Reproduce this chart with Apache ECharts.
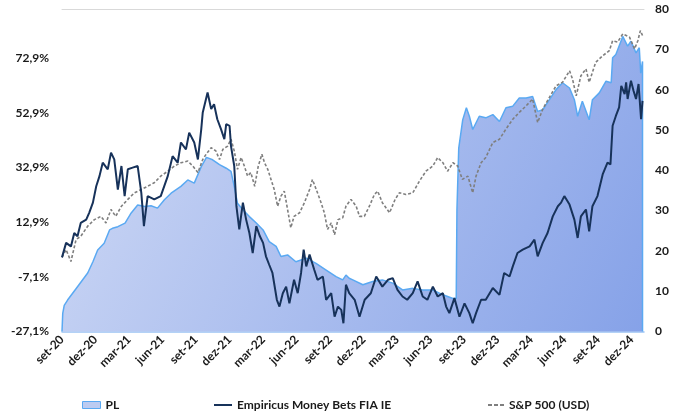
<!DOCTYPE html>
<html><head><meta charset="utf-8">
<script src="https://cdn.jsdelivr.net/npm/echarts@6/dist/echarts.min.js"></script>
<style>html,body{margin:0;padding:0;background:#fff}#c{width:680px;height:412px}</style>
</head><body><div id="c"></div>
<script>
// ---- data ----
const xTickLabels = ['set-20','dez-20','mar-21','jun-21','set-21','dez-21','mar-22','jun-22','set-22','dez-22','mar-23','jun-23','set-23','dez-23','mar-24','jun-24','set-24','dez-24'];
const leftTicks = [-27.1,-7.1,12.9,32.9,52.9,72.9];
const rightTicks = [0,10,20,30,40,50,60,70,80];

const plDates = ['2020-09-01','2020-09-03','2020-09-07','2020-09-16','2020-10-13','2020-11-10','2020-11-24','2020-12-07','2020-12-25','2021-01-09','2021-01-17','2021-02-01','2021-02-19','2021-03-07','2021-03-25','2021-04-13','2021-04-30','2021-05-18','2021-06-06','2021-06-24','2021-07-21','2021-08-09','2021-08-27','2021-09-15','2021-09-29','2021-10-16','2021-11-04','2021-11-22','2021-12-05','2021-12-14','2021-12-23','2022-01-07','2022-01-25','2022-02-12','2022-03-01','2022-03-18','2022-04-06','2022-04-19','2022-05-07','2022-05-30','2022-06-27','2022-07-24','2022-08-20','2022-09-17','2022-10-05','2022-10-14','2022-10-23','2022-11-02','2022-11-29','2022-12-26','2023-01-22','2023-02-18','2023-03-16','2023-04-13','2023-05-10','2023-06-07','2023-07-04','2023-08-01','2023-08-10','2023-08-12','2023-08-17','2023-08-28','2023-09-07','2023-09-15','2023-09-24','2023-10-12','2023-10-30','2023-11-18','2023-12-06','2023-12-24','2024-01-12','2024-01-30','2024-02-17','2024-03-05','2024-03-19','2024-04-02','2024-04-20','2024-05-08','2024-05-26','2024-06-14','2024-06-27','2024-07-06','2024-07-19','2024-08-07','2024-08-16','2024-09-04','2024-09-22','2024-10-06','2024-10-10','2024-10-19','2024-11-07','2024-11-20','2024-11-29','2024-12-13','2024-12-22','2024-12-26','2024-12-31'];
const plValues = [0,4.5,6.5,7.8,11.1,14.5,17.3,20.2,21.9,25.2,25.6,26.0,26.9,29.4,31.4,31.0,31.2,30.6,32.7,34.3,36.0,37.6,36.8,40.9,43.2,42.6,41.4,40.5,39.7,36.0,31.8,30.2,28.5,26.9,25.2,22.3,21.1,18.6,19.0,17.3,18.2,16.9,15.3,13.6,12.8,14.0,13.2,12.8,11.6,12.4,12.8,12.0,10.3,10.7,10.3,10.3,9.1,8.2,8.2,30.2,45.5,52.5,55.5,53.4,50.1,53.4,53.0,53.8,52.1,55.5,55.9,57.9,57.9,58.3,54.6,55.0,57.5,60.0,61.7,60.4,57.5,53.4,57.1,52.5,57.5,59.2,62.1,61.7,67.9,68.7,73.2,70.8,72.0,69.1,70.4,64.1,67.0];

const fundDates = ['2020-09-01','2020-09-12','2020-09-25','2020-10-04','2020-10-13','2020-10-22','2020-11-06','2020-11-14','2020-11-24','2020-12-03','2020-12-12','2020-12-21','2021-01-04','2021-01-13','2021-01-22','2021-02-01','2021-02-10','2021-02-18','2021-02-26','2021-03-11','2021-03-25','2021-04-04','2021-04-11','2021-04-21','2021-05-09','2021-05-27','2021-06-15','2021-06-28','2021-07-12','2021-07-21','2021-08-04','2021-08-13','2021-08-27','2021-09-06','2021-09-15','2021-09-19','2021-10-02','2021-10-12','2021-10-20','2021-10-29','2021-11-08','2021-11-17','2021-11-22','2021-12-01','2021-12-05','2021-12-14','2021-12-20','2021-12-28','2022-01-07','2022-01-16','2022-01-25','2022-02-03','2022-02-12','2022-02-21','2022-03-01','2022-03-09','2022-03-18','2022-03-27','2022-04-08','2022-04-15','2022-04-24','2022-05-03','2022-05-12','2022-05-25','2022-06-04','2022-06-13','2022-06-20','2022-06-27','2022-07-06','2022-07-19','2022-07-28','2022-08-12','2022-08-21','2022-09-04','2022-09-13','2022-09-22','2022-10-01','2022-10-07','2022-10-14','2022-10-23','2022-11-07','2022-11-20','2022-12-04','2022-12-21','2023-01-05','2023-01-22','2023-02-06','2023-02-18','2023-03-02','2023-03-16','2023-03-29','2023-04-13','2023-04-26','2023-05-10','2023-05-23','2023-06-07','2023-06-20','2023-07-04','2023-07-13','2023-07-22','2023-08-05','2023-08-19','2023-09-02','2023-09-15','2023-09-24','2023-10-03','2023-10-17','2023-10-30','2023-11-18','2023-12-06','2023-12-19','2024-01-03','2024-01-12','2024-01-25','2024-02-08','2024-02-26','2024-03-10','2024-03-19','2024-04-02','2024-04-15','2024-04-29','2024-05-13','2024-05-22','2024-05-31','2024-06-14','2024-06-27','2024-07-06','2024-07-15','2024-07-29','2024-08-07','2024-08-16','2024-08-30','2024-09-13','2024-09-26','2024-10-04','2024-10-10','2024-10-19','2024-10-28','2024-11-03','2024-11-12','2024-11-16','2024-11-20','2024-11-29','2024-12-06','2024-12-13','2024-12-20','2024-12-27','2024-12-31'];
const fundValues = [0,5.3,4.0,8.9,7.7,12.6,13.8,16.3,20.0,26.0,29.7,34.6,32.2,38.3,35.8,24.8,33.4,22.4,32.2,32.8,33.4,23.6,11.4,22.4,21.2,22.4,29.7,37.0,34.6,42.0,39.5,45.6,42.0,35.8,46.9,53.0,60.3,54.2,56.0,50.5,46.9,43.2,48.7,48.1,40.7,33.4,18.7,10.2,20.0,13.8,8.9,1.6,11.4,7.7,5.3,0.4,-2.7,-5.7,-15.5,-18.0,-13.1,-10.7,-16.8,-8.2,-13.1,-5.7,2.8,-3.3,1.0,-4.5,-8.2,-7.0,-15.5,-13.1,-21.7,-18.0,-19.2,-24.1,-10.0,-13.1,-15.5,-21.7,-15.5,-13.1,-7.0,-10.7,-8.2,-7.6,-11.9,-14.3,-15.5,-13.1,-8.8,-14.3,-15.5,-10.7,-14.3,-13.1,-18.0,-20.4,-14.9,-21.7,-16.8,-20.4,-24.1,-20.4,-15.5,-15.5,-11.2,-13.7,-5.7,-7.0,-3.3,1.6,2.8,4.0,6.5,0.4,5.3,8.9,15.0,18.7,20.0,22.4,19.3,13.8,7.1,15.0,17.5,9.5,18.7,22.4,30.3,34.6,34.0,48.1,51.7,54.8,62.7,59.7,64.0,57.9,64.6,60.9,57.9,63.4,50.5,57.2];

const spxDates = ['2020-09-01','2020-09-12','2020-09-25','2020-10-09','2020-10-22','2020-11-10','2020-11-28','2020-12-16','2020-12-30','2021-01-13','2021-01-26','2021-02-10','2021-02-26','2021-03-16','2021-04-04','2021-04-21','2021-05-09','2021-05-27','2021-06-15','2021-07-03','2021-07-21','2021-08-09','2021-08-23','2021-09-06','2021-09-19','2021-09-28','2021-10-12','2021-10-25','2021-11-04','2021-11-13','2021-11-26','2021-12-05','2021-12-14','2021-12-23','2022-01-02','2022-01-11','2022-01-20','2022-01-29','2022-02-08','2022-02-17','2022-02-26','2022-03-05','2022-03-14','2022-03-23','2022-04-01','2022-04-10','2022-04-19','2022-04-28','2022-05-07','2022-05-16','2022-05-25','2022-06-09','2022-06-22','2022-07-06','2022-07-14','2022-07-28','2022-08-07','2022-08-16','2022-08-25','2022-09-04','2022-09-13','2022-09-22','2022-10-05','2022-10-14','2022-10-28','2022-11-11','2022-11-20','2022-12-03','2022-12-17','2022-12-31','2023-01-09','2023-01-22','2023-02-10','2023-02-24','2023-03-07','2023-03-25','2023-04-13','2023-05-01','2023-05-19','2023-06-07','2023-06-20','2023-07-04','2023-07-17','2023-08-01','2023-08-14','2023-08-27','2023-09-11','2023-09-24','2023-10-03','2023-10-17','2023-10-30','2023-11-18','2023-12-06','2023-12-24','2024-01-12','2024-01-30','2024-02-17','2024-03-05','2024-03-19','2024-04-02','2024-04-20','2024-05-08','2024-05-26','2024-06-14','2024-06-22','2024-07-02','2024-07-15','2024-07-29','2024-08-07','2024-08-25','2024-09-13','2024-10-01','2024-10-10','2024-10-24','2024-11-07','2024-11-25','2024-12-09','2024-12-18','2024-12-25','2024-12-31'];
const spxValues = [0,2.8,-1.5,6.5,7.7,11.4,13.8,15.0,12.6,17.5,15.0,18.7,21.2,23.6,24.8,26.0,27.3,29.7,31.5,33.4,34.6,35.2,33.4,31.0,35.8,37.7,40.1,38.9,35.8,39.5,40.7,43.2,38.9,32.2,36.5,33.4,29.7,31.0,26.0,33.4,37.7,34.6,32.2,28.5,24.8,18.7,22.4,24.2,17.5,10.8,15.0,16.3,20.0,24.8,28.5,23.6,20.0,16.3,10.2,12.6,8.3,13.8,14.5,18.7,21.2,18.7,15.0,15.0,18.7,23.0,24.2,20.0,16.3,21.2,23.6,23.0,23.6,27.9,31.5,33.4,36.5,34.6,31.5,34.6,33.4,28.5,29.7,23.6,29.7,34.6,36.5,42.0,43.2,46.9,50.5,53.0,55.4,57.9,49.3,54.2,58.5,62.7,64.0,68.2,65.2,59.1,66.4,68.9,64.0,71.3,73.7,75.6,79.2,78.7,81.7,80.5,76.2,79.2,82.9,81.1];

// ---- helpers ----
function monthOffset(s){
  const p = s.split('-').map(Number);
  const dim = new Date(p[0], p[1], 0).getDate();
  return (p[0]-2020)*12 + (p[1]-9) + (p[2]-1)/dim;
}
function pairs(dates, vals){ return dates.map((d,i)=>[monthOffset(d), vals[i]]); }

const plData = pairs(plDates, plValues);
// close the area outline on the right edge (as in the original area border)
plData.push([plData[plData.length-1][0], 0]);

const FONT = 'Lato';
const lblStyle = {fontFamily: FONT, fontWeight: 'bold', fontSize: 12, color: '#1a1a1a'};
const X_MAX = 52.1;
const DASH_ICON = 'path://M0,0h4v2h-4z M6,0h4v2h-4z M12,0h4v2h-4z';

const chart = echarts.init(document.getElementById('c'), null, {renderer:'canvas'});
chart.setOption({
  animation: false,
  backgroundColor: '#ffffff',
  grid: {left: 62, right: 36, top: 9, bottom: 80.5, containLabel: false},
  xAxis: [{
    type: 'value', min: 0, max: X_MAX, interval: 3,
    axisLine: {show: true, onZero: false, lineStyle: {color: '#9cc4f4', width: 1.5}},
    axisTick: {show: false}, splitLine: {show: false},
    axisLabel: Object.assign({}, lblStyle, {
      rotate: 45, margin: 6, showMaxLabel: false,
      formatter: v => { const k = Math.round(v/3); return Math.abs(v - k*3) < 1e-6 ? (xTickLabels[k] || '') : ''; }
    })
  },{
    type: 'value', position: 'top', min: 0, max: X_MAX,
    axisLine: {show: true, onZero: false, lineStyle: {color: '#d9d9d9', width: 1}},
    axisTick: {show: false}, axisLabel: {show: false}, splitLine: {show: false}
  }],
  yAxis: [{
    type: 'value', position: 'left', min: leftTicks[0], max: 90.8, interval: 20,
    axisLine: {show: false}, axisTick: {show: false}, splitLine: {show: false},
    axisLabel: Object.assign({}, lblStyle, {
      margin: 13, showMaxLabel: false,
      formatter: v => { const t = leftTicks.find(x => Math.abs(x - v) < 0.05); return t === undefined ? '' : t.toFixed(1).replace('.', ',') + '%'; }
    })
  },{
    type: 'value', position: 'right', min: rightTicks[0], max: rightTicks[rightTicks.length-1], interval: 10,
    axisLine: {show: false}, axisTick: {show: false}, splitLine: {show: false},
    axisLabel: Object.assign({}, lblStyle, {margin: 11})
  }],
  legend: [
    {left: 77, top: 394, itemWidth: 18, itemHeight: 7, itemGap: 0, textStyle: lblStyle,
     data: [{name: 'PL', icon: 'rect', itemStyle: {color: '#bccbf1', borderColor: '#5aa9f2', borderWidth: 1}}]},
    {left: 209, top: 394, itemWidth: 18, itemHeight: 2, itemGap: 0, textStyle: lblStyle,
     data: [{name: 'Empiricus Money Bets FIA IE', icon: 'rect', itemStyle: {color: '#17325a', borderWidth: 0}}]},
    {left: 483, top: 394, itemWidth: 16, itemHeight: 2, itemGap: 0, textStyle: lblStyle,
     data: [{name: 'S&P 500 (USD)', icon: DASH_ICON, itemStyle: {color: '#7f7f7f', borderWidth: 0}}]}
  ],
  series: [
    {
      name: 'PL', type: 'line', xAxisIndex: 0, yAxisIndex: 1, data: plData,
      symbol: 'none', z: 1,
      lineStyle: {color: '#5aa9f2', width: 1.5},
      itemStyle: {color: '#5aa9f2'},
      areaStyle: {opacity: 1, origin: 'start', color: new echarts.graphic.LinearGradient(0, 0, 1, 1, [
        {offset: 0, color: '#d0daf5'}, {offset: 1, color: '#86a2e8'}
      ])}
    },
    {
      name: 'S&P 500 (USD)', type: 'line', xAxisIndex: 0, yAxisIndex: 0,
      data: pairs(spxDates, spxValues), symbol: 'none', z: 2,
      lineStyle: {color: '#7f7f7f', width: 1.6, type: [3, 2]},
      itemStyle: {color: '#7f7f7f'}
    },
    {
      name: 'Empiricus Money Bets FIA IE', type: 'line', xAxisIndex: 0, yAxisIndex: 0,
      data: pairs(fundDates, fundValues), symbol: 'none', z: 3,
      lineStyle: {color: '#17325a', width: 2},
      itemStyle: {color: '#17325a'}
    }
  ]
});
</script>
</body></html>
